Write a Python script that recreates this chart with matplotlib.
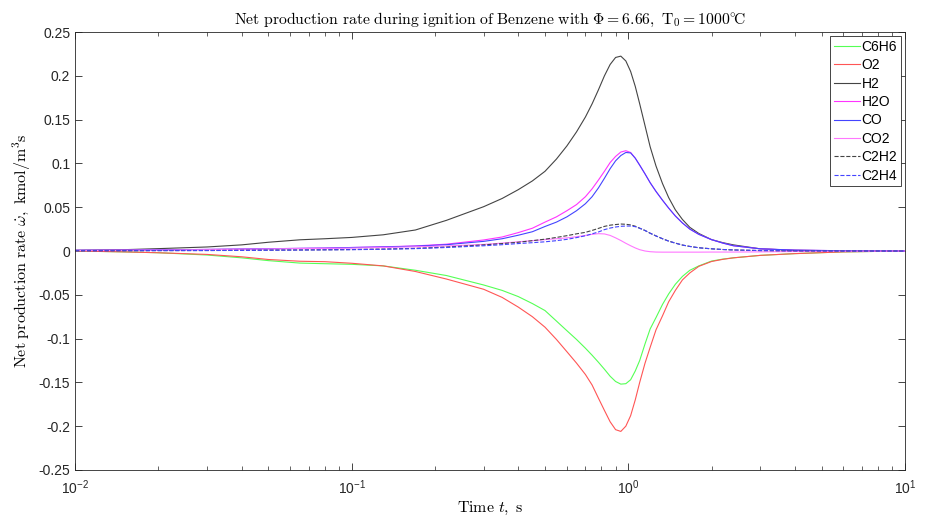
import numpy as np
import matplotlib
matplotlib.use('Agg')
import matplotlib.pyplot as plt
from matplotlib.ticker import LogLocator, MultipleLocator

plt.rcParams.update({'font.family': ['Liberation Sans', 'DejaVu Sans'],
                     'mathtext.fontset': 'cm',
                     'font.size': 9})

# time grid (s) and net production rates (kmol/m^3 s)
t = [0.01, 0.015, 0.02, 0.03, 0.04, 0.05, 0.065, 0.08, 0.1, 0.13, 0.17, 0.22, 0.3, 0.35,
     0.4, 0.45,
     0.5, 0.55, 0.6, 0.65, 0.7, 0.74, 0.78, 0.82, 0.86, 0.9, 0.94, 0.98, 1.02, 1.06,
     1.1, 1.15, 1.2, 1.26, 1.33, 1.4, 1.48, 1.57, 1.67, 1.8, 2.0, 2.2, 2.4,
     3.0, 4.0, 6.0, 10.0]

c6h6 = [0.0, -0.001, -0.002, -0.0046, -0.0078, -0.011, -0.0138, -0.0145, -0.0152, -0.017,
        -0.022, -0.028, -0.0388, -0.045, -0.052, -0.060,
        -0.068, -0.080, -0.091, -0.101, -0.111, -0.119, -0.127, -0.135, -0.143, -0.149,
        -0.152, -0.1515, -0.147, -0.137, -0.125, -0.106, -0.089, -0.076, -0.061, -0.049,
        -0.038, -0.029, -0.022, -0.017, -0.0115, -0.0092, -0.0078,
        -0.005, -0.003, -0.001, 0.0]
o2 = [0.0, -0.001, -0.002, -0.0039, -0.0066, -0.0097, -0.0117, -0.0122, -0.014, -0.017,
      -0.0234, -0.032, -0.0437, -0.053, -0.064, -0.075,
      -0.087, -0.101, -0.115, -0.128, -0.141, -0.153, -0.168, -0.182, -0.195, -0.204,
      -0.206, -0.200, -0.188, -0.170, -0.150, -0.128, -0.110, -0.090, -0.074, -0.058,
      -0.045, -0.033, -0.025, -0.0175, -0.012, -0.0095, -0.0078,
      -0.005, -0.003, -0.001, 0.0]
h2 = [0.0008, 0.0015, 0.0027, 0.0046, 0.007, 0.010, 0.0128, 0.014, 0.0155, 0.0185,
      0.024, 0.035, 0.0506, 0.060, 0.070, 0.080,
      0.091, 0.105, 0.120, 0.136, 0.153, 0.168, 0.184, 0.200, 0.213, 0.221,
      0.2225, 0.217, 0.205, 0.188, 0.168, 0.143, 0.119, 0.097, 0.077, 0.061,
      0.047, 0.036, 0.027, 0.020, 0.013, 0.0095, 0.007,
      0.0025, 0.0008, 0.0002, 0.0]
h2o = [0.0008, 0.001, 0.0013, 0.0018, 0.0022, 0.0026, 0.003, 0.0033, 0.004, 0.0048,
       0.0058, 0.0078, 0.0126, 0.016, 0.021, 0.026,
       0.033, 0.039, 0.046, 0.053, 0.062, 0.071, 0.081, 0.091, 0.101, 0.108,
       0.113, 0.1145, 0.1125, 0.106, 0.098, 0.088, 0.078, 0.068, 0.058, 0.049,
       0.040, 0.032, 0.025, 0.019, 0.013, 0.009, 0.006,
       0.0025, 0.001, 0.0003, 0.0]
co = [0.0008, 0.001, 0.0013, 0.0018, 0.0022, 0.0026, 0.003, 0.0033, 0.004, 0.0046,
      0.0055, 0.0072, 0.011, 0.014, 0.018, 0.022,
      0.028, 0.033, 0.039, 0.046, 0.054, 0.062, 0.072, 0.083, 0.094, 0.103,
      0.109, 0.1125, 0.112, 0.106, 0.098, 0.088, 0.078, 0.068, 0.058, 0.049,
      0.040, 0.032, 0.025, 0.019, 0.013, 0.009, 0.006,
      0.0025, 0.001, 0.0003, 0.0]
co2 = [0.0005, 0.0008, 0.001, 0.0015, 0.002, 0.0024, 0.0028, 0.003, 0.0033, 0.004,
       0.0048, 0.0058, 0.0075, 0.009, 0.0105, 0.0118,
       0.013, 0.014, 0.015, 0.0163, 0.0178, 0.019, 0.0198, 0.0195, 0.0178, 0.015,
       0.012, 0.0088, 0.006, 0.0035, 0.0015, 0.0, -0.0008, -0.0012, -0.0013, -0.0013,
       -0.0013, -0.0013, -0.0013, -0.0013, -0.0012, -0.0012, -0.0012,
       -0.001, -0.0006, -0.0002, 0.0]
c2h2 = [0.0003, 0.0004, 0.0005, 0.0006, 0.0008, 0.001, 0.0012, 0.0014, 0.0017, 0.0022,
        0.003, 0.0045, 0.007, 0.0085, 0.010, 0.0118,
        0.0135, 0.0155, 0.0175, 0.0196, 0.0213, 0.0235, 0.0258, 0.0281, 0.0295, 0.0302,
        0.0308, 0.0305, 0.0298, 0.0283, 0.026, 0.0234, 0.0203, 0.0172, 0.014, 0.0113,
        0.009, 0.0068, 0.0052, 0.0037, 0.0025, 0.0017, 0.0012,
        0.0005, 0.0002, 0.0, 0.0]
c2h4 = [0.0002, 0.0003, 0.0004, 0.0005, 0.0007, 0.0009, 0.0011, 0.0013, 0.0015, 0.002,
        0.0027, 0.004, 0.006, 0.0072, 0.0085, 0.0095,
        0.0105, 0.0118, 0.0133, 0.0153, 0.0174, 0.0196, 0.0217, 0.0244, 0.0262, 0.0274,
        0.0282, 0.0285, 0.0285, 0.0278, 0.026, 0.0234, 0.0203, 0.0172, 0.014, 0.0113,
        0.009, 0.0068, 0.0052, 0.0037, 0.0025, 0.0017, 0.0012,
        0.0005, 0.0002, 0.0, 0.0]

species = ['C6H6', 'O2', 'H2', 'H2O', 'CO', 'CO2', 'C2H2', 'C2H4']
series = [c6h6, o2, h2, h2o, co, co2, c2h2, c2h4]
colors = ['#55ff55', '#ff5555', '#444444', '#ff33ff', '#4444ff', '#ff77ff',
          '#444444', '#4444ff']
styles = ['-', '-', '-', '-', '-', '-', '--', '--']

fig = plt.figure(figsize=(9.28, 5.17), dpi=100)
ax = fig.add_axes([0.081, 0.091, 0.894, 0.847])

for name, y, c, ls in zip(species, series, colors, styles):
    ax.plot(t, y, color=c, linestyle=ls, linewidth=0.8, label=name)

ax.set_xscale('log')
ax.set_xlim(0.01, 10)
ax.set_ylim(-0.25, 0.25)
ax.yaxis.set_major_locator(MultipleLocator(0.05))
ax.yaxis.set_major_formatter(plt.FuncFormatter(lambda v, p: ('%g' % round(v, 2))))
ax.xaxis.set_major_locator(LogLocator(base=10, numticks=10))
ax.xaxis.set_minor_locator(LogLocator(base=10, subs=np.arange(2, 10), numticks=10))
ax.tick_params(which='both', direction='in', top=True, right=True, colors='#262626',
               labelcolor='#262626', labelsize=10)
ax.tick_params(which='major', length=5, width=0.6)
ax.tick_params(which='minor', length=3, width=0.5)
ax.tick_params(axis='x', pad=6)
for s in ax.spines.values():
    s.set_color('#262626')
    s.set_linewidth(0.6)

ax.set_title(r'$\mathrm{Net\ production\ rate\ during\ ignition\ of\ Benzene\ with\ }'
             r'\Phi = 6.66,\ \mathrm{T}_0 = 1000^{\circ}\!\mathrm{C}$', fontsize=11.3, pad=6)
ax.set_xlabel(r'$\mathrm{Time\ }t\mathrm{,\ s}$', fontsize=11.5, labelpad=2)
ax.set_ylabel(r'$\mathrm{Net\ production\ rate\ }\dot{\omega}\mathrm{,\ kmol/m^3s}$',
              fontsize=11.5, labelpad=4)

leg = ax.legend(loc='upper right', fontsize=10, handlelength=1.9, handletextpad=0.1,
                borderaxespad=0.3, borderpad=0.25, labelspacing=0.32, fancybox=False,
                framealpha=1)
leg.get_frame().set_edgecolor('#262626')
leg.get_frame().set_linewidth(0.6)

fig.savefig('out.png', dpi=100)
